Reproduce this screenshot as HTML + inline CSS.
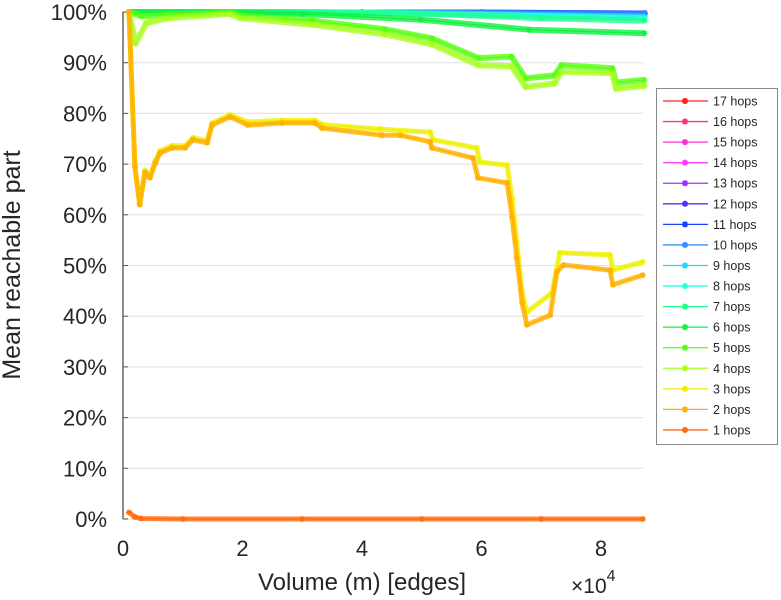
<!DOCTYPE html>
<html><head><meta charset="utf-8"><style>
html,body{margin:0;padding:0;background:#fff;}
svg{display:block;font-family:"Liberation Sans",sans-serif;}
</style></head><body>
<svg id="chart" width="781" height="600" xmlns="http://www.w3.org/2000/svg">
<g id="grid"></g>
<g id="axes"></g>
<g id="series"></g>
<text x="20" y="265" font-size="25" fill="#262626" text-anchor="middle" transform="rotate(-90 20 265)">Mean reachable part</text>
<text x="362" y="590" font-size="24" fill="#262626" text-anchor="middle">Volume (m) [edges]</text>
<text x="571" y="593" font-size="21" fill="#262626">×10<tspan dy="-12" font-size="16">4</tspan></text>
<g id="legend"></g>
</svg>
<script>
const yTicks = [0,10,20,30,40,50,60,70,80,90,100];
const xTicks = [0,2,4,6,8];
const seriesNames = ["1 hops","2 hops","3 hops","4 hops","5 hops","6 hops","7 hops","8 hops","9 hops","10 hops","11 hops","12 hops","13 hops","14 hops","15 hops","16 hops","17 hops"];
const seriesColors = ["#ff6a10","#ffb000","#f0f000","#a8ff20","#55ff10","#10f040","#20ff90","#30ffe0","#20d8ff","#3090ff","#2040ff","#5030ff","#a030ff","#ff40ff","#ff30d0","#ff3080","#ff2020"];
const x1 = [0.1,0.2,0.3,1,3,5,7,8.7];
const y1 = [1.3,0.4,0.1,0,0,0,0,0];
const x2 = [0.1,0.2,0.28,0.37,0.45,0.54,0.62,0.82,1.04,1.17,1.41,1.49,1.79,2.09,2.66,3.21,3.33,4.33,4.64,5.14,5.17,5.86,5.94,6.43,6.51,6.59,6.68,6.76,7.15,7.26,7.37,8.15,8.2,8.7];
const y2 = [100,69.4,62,68.4,67.3,70.2,72.2,73.2,73.2,74.8,74.2,77.7,79.3,77.7,78.1,78.1,77.1,75.7,75.7,74.4,73.2,71.2,67.3,66.3,59.6,51.5,42.6,38.3,40.2,48.7,50.1,49.1,46.2,48.1];
const x3 = [0.1,0.2,0.28,0.37,0.45,0.54,0.62,0.82,1.04,1.17,1.41,1.49,1.79,2.09,2.66,3.21,3.33,4.3,5.14,5.19,5.92,5.97,6.43,6.51,6.59,6.68,6.76,7.18,7.31,8.15,8.2,8.7];
const y3 = [100,69.6,62.3,68.7,67.6,70.6,72.6,73.6,73.6,75.2,74.6,78.1,79.7,78.3,78.6,78.6,77.8,76.9,76.3,74.8,73.2,70.4,69.8,63.3,54.6,44.8,40.8,44.6,52.5,52.1,49.1,50.7];
const x4 = [0.1,0.21,0.39,0.76,1.78,1.96,3.17,4.38,5.17,5.95,6.5,6.74,7.22,7.34,8.19,8.25,8.73];
const y4 = [100,93.8,97.8,98.8,99.6,98.8,97.5,95.6,93.6,89.5,89.3,85.2,85.9,88.2,87.9,84.9,85.4];
const x5 = [0.1,0.3,0.8,1.8,2,3.17,4.38,5.17,5.95,6.5,6.74,7.22,7.34,8.19,8.25,8.73];
const y5 = [100,99.2,99.4,99.9,99.2,98.3,96.6,94.8,90.9,91.2,86.9,87.5,89.5,88.9,86.1,86.6];
const x6 = [0.1,2,3,4.98,6.8,8.73];
const y6 = [100,99.9,99.6,98.5,96.5,95.8];
const x7 = [0.1,3,5,7,8.73];
const y7 = [100,100,99.7,98.8,98.3];
const x8 = [0.1,4,6,8.73];
const y8 = [100,99.9,99.4,98.8];
const x9 = [0.1,4,6,8.73];
const y9 = [100,99.9,99.6,99.1];
const xTop = [0.1,4,6,8.73];
const yTop = [100,100,99.9,99.6];
const seriesX = [x1,x2,x3,x4,x5,x6,x7,x8,x9,xTop,xTop,xTop,xTop,xTop,xTop,xTop,xTop];
const seriesY = [y1,y2,y3,y4,y5,y6,y7,y8,y9,[100,100,99.95,99.7],[100,100,99.95,99.8],[100,100,100,99.8],yTop,yTop,yTop,yTop,yTop];

const NS="http://www.w3.org/2000/svg";
const X0=123, XS=59.75, Y0=519, YS=5.07;
function sx(v){return X0+v*XS;}
function sy(v){return Y0-v*YS;}
function mk(tag,attrs,parent){const e=document.createElementNS(NS,tag);for(const k in attrs)e.setAttribute(k,attrs[k]);parent.appendChild(e);return e;}
const grid=document.getElementById('grid'), axes=document.getElementById('axes'), ser=document.getElementById('series'), leg=document.getElementById('legend');
yTicks.forEach(t=>{
  const g=mk('line',{x1:X0,x2:643,y1:sy(t),y2:sy(t),stroke:'#e4e4e4','stroke-width':1.2},grid);
  
  
  const tk=mk('line',{x1:X0,x2:X0+5,y1:sy(t),y2:sy(t),stroke:'#555','stroke-width':1},axes);
  
  
  const lb=mk('text',{x:107,y:sy(t)+8,'font-size':22,fill:'#262626','text-anchor':'end'},axes);
  lb.textContent=t+'%';
  
  
});
xTicks.forEach(t=>{
  const lb=mk('text',{x:sx(t),y:556,'font-size':22,fill:'#262626','text-anchor':'middle'},axes);
  lb.textContent=t;
  
  
});
const ax=mk('line',{x1:X0,x2:X0,y1:sy(100),y2:Y0,stroke:'#666','stroke-width':1.5},axes);


function star(x,y,c,parent){
  const p=mk('path',{d:`M${x-3} ${y}h6M${x} ${y-3}v6M${x-2.2} ${y-2.2}l4.4 4.4M${x-2.2} ${y+2.2}l4.4 -4.4`,stroke:c,'stroke-width':1.2,fill:'none'},parent);
  return p;
}
for(let i=seriesNames.length-1;i>=0;i--){
  const xs=seriesX[i], ys=seriesY[i], c=seriesColors[i];
  const g=mk('g',{},ser);
  
  
  const pts=xs.map((v,j)=>sx(v).toFixed(1)+','+sy(ys[j]).toFixed(1)).join(' ');
  const band=mk('polyline',{points:pts,fill:'none',stroke:c,'stroke-width':i<3||i>8?5:6,'stroke-opacity':0.8,'stroke-linejoin':'round'},g);
  
  
  const ln=mk('polyline',{points:pts,fill:'none',stroke:c,'stroke-width':1.2},g);
  
  
  xs.forEach((v,j)=>{
    const m=star(sx(v),sy(ys[j]),c,g);
    
    
  });
}
const box=mk('rect',{x:656.5,y:88.5,width:121,height:356,fill:'#fff',stroke:'#888','stroke-width':1},leg);


for(let k=0;k<17;k++){
  const i=16-k, y=101+k*20.56, c=seriesColors[i];
  const g=mk('g',{},leg);
  
  
  mk('line',{x1:663,x2:708,y1:y,y2:y,stroke:c,'stroke-width':1.3},g);
  star(685,y,c,g).setAttribute('stroke-width',1.8);
  const t=mk('text',{x:713,y:y+4.5,'font-size':12.5,fill:'#262626'},g);
  t.textContent=seriesNames[i];
}
</script>
</body></html>
